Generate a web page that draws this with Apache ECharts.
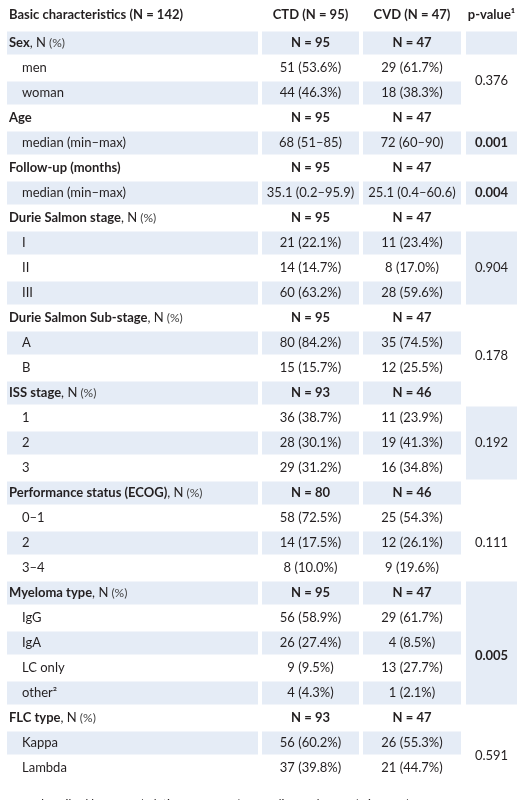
<!DOCTYPE html>
<html><head><meta charset="utf-8">
<script src="https://cdn.jsdelivr.net/npm/echarts@6/dist/echarts.min.js"></script>
<style>html,body{margin:0;padding:0;background:#fff}#c{width:525px;height:800px}</style>
</head><body><div id="c"></div>
<script>
// ---- data ----
const headerTitles = ['Basic characteristics (N = 142)', 'CTD (N = 95)', 'CVD (N = 47)', 'p-value¹'];
const rowLabels = ['Sex','men','woman','Age','median (min–max)','Follow-up (months)','median (min–max)',
 'Durie Salmon stage','I','II','III','Durie Salmon Sub-stage','A','B','ISS stage','1','2','3',
 'Performance status (ECOG)','0–1','2','3–4','Myeloma type','IgG','IgA','LC only','other²','FLC type','Kappa','Lambda'];
const rowSuffix = [', N (%)','','','','','','',', N (%)','','','',', N (%)','','',', N (%)','','','',', N (%)','','','',', N (%)','','','','',', N (%)','',''];
const rowIsGroup = [1,0,0,1,0,1,0,1,0,0,0,1,0,0,1,0,0,0,1,0,0,0,1,0,0,0,0,1,0,0];
const ctdValues = ['N = 95','51 (53.6%)','44 (46.3%)','N = 95','68 (51–85)','N = 95','35.1 (0.2–95.9)','N = 95','21 (22.1%)','14 (14.7%)','60 (63.2%)','N = 95','80 (84.2%)','15 (15.7%)','N = 93','36 (38.7%)','28 (30.1%)','29 (31.2%)','N = 80','58 (72.5%)','14 (17.5%)','8 (10.0%)','N = 95','56 (58.9%)','26 (27.4%)','9 (9.5%)','4 (4.3%)','N = 93','56 (60.2%)','37 (39.8%)'];
const cvdValues = ['N = 47','29 (61.7%)','18 (38.3%)','N = 47','72 (60–90)','N = 47','25.1 (0.4–60.6)','N = 47','11 (23.4%)','8 (17.0%)','28 (59.6%)','N = 47','35 (74.5%)','12 (25.5%)','N = 46','11 (23.9%)','19 (41.3%)','16 (34.8%)','N = 46','25 (54.3%)','12 (26.1%)','9 (19.6%)','N = 47','29 (61.7%)','4 (8.5%)','13 (27.7%)','1 (2.1%)','N = 47','26 (55.3%)','21 (44.7%)'];
// p-value cells: [firstRow, lastRow, shaded, textFirstRow, textLastRow]
const pCells = [[0,0,1,0,0],[1,2,0,1,2],[4,4,1,4,4],[6,6,1,6,6],[8,10,1,8,10],[12,13,0,12,13],[15,17,1,15,17],[19,21,0,19,21],[22,26,1,23,26],[28,29,0,28,29]];
const pTexts = ['','0.376','0.001','0.004','0.904','0.178','0.192','0.111','0.005','0.591'];
const pBold = [0,0,1,1,0,0,0,0,1,0];
const footnote = 'Data described by count (relative frequency) or median and range (min–max)';

// ---- layout ----
const FONT = 'Lato';
const FS = 13;
const TXT = '#231f20';
const SHADE = '#e5ecf6';
const colBounds = [[7,258],[262,359],[363,461],[466,517]];

const chart = echarts.init(document.getElementById('c'), null, {renderer:'canvas'});
const rowData = rowLabels.map((l,i)=>[i]);
chart.setOption({
  animation:false,
  grid:{left:0,right:0,top:0,bottom:0},
  xAxis:{type:'value',min:0,max:525,show:false},
  yAxis:{type:'value',min:-1.72,max:30.28,inverse:true,show:false},
  series:[
  {
    type:'custom', data:rowData, silent:true,
    renderItem:(params,api)=>{
      const i=api.value(0);
      const top=api.coord([0,i-0.5])[1]+1, bot=api.coord([0,i+0.5])[1]-1;
      const cy=api.coord([0,i])[1];
      const ch=[];
      const shaded = i%2===0;
      for(let c=0;c<3;c++){
        if(shaded){
          const x0=api.coord([colBounds[c][0],0])[0], x1=api.coord([colBounds[c][1],0])[0];
          ch.push({type:'rect',shape:{x:x0,y:top,width:x1-x0,height:bot-top},style:{fill:SHADE}});
        }
      }
      const g=rowIsGroup[i];
      ch.push({type:'text',x:g?9:22,y:cy,style:{
        text: g ? '{b|'+rowLabels[i]+'}'+(rowSuffix[i]?'{n|'+rowSuffix[i].replace(' (%)','')+'}{s| (%)}':'') : '{n|'+rowLabels[i]+'}',
        verticalAlign:'middle',align:'left',
        rich:{b:{fontFamily:FONT,fontWeight:'bold',fontSize:FS,fill:TXT},
              n:{fontFamily:FONT,fontSize:FS,fill:TXT},
              s:{fontFamily:FONT,fontSize:12,fill:'#444'}}}});
      const vals=[ctdValues[i],cvdValues[i]];
      for(let c=0;c<2;c++){
        const cx=api.coord([(colBounds[c+1][0]+colBounds[c+1][1])/2,0])[0];
        ch.push({type:'text',x:cx,y:cy,style:{text:vals[c],align:'center',verticalAlign:'middle',
          fontFamily:FONT,fontSize:FS,fontWeight:g?'bold':'normal',fill:TXT}});
      }
      return {type:'group',children:ch};
    }
  },
  {
    type:'custom', data:pCells.map((p,k)=>[p[0],p[1],p[2],p[3],p[4],k]), silent:true,
    renderItem:(params,api)=>{
      const a=api.value(0),b=api.value(1),sh=api.value(2),ta=api.value(3),tb=api.value(4),k=api.value(5);
      const top=api.coord([0,a-0.5])[1]+1, bot=api.coord([0,b+0.5])[1]-1;
      const x0=api.coord([colBounds[3][0],0])[0], x1=api.coord([colBounds[3][1],0])[0];
      const ty=(api.coord([0,ta])[1]+api.coord([0,tb])[1])/2;
      const ch=[];
      if(sh) ch.push({type:'rect',shape:{x:x0,y:top,width:x1-x0,height:bot-top},style:{fill:SHADE}});
      ch.push({type:'text',x:(x0+x1)/2,y:ty,style:{text:pTexts[k],align:'center',verticalAlign:'middle',
        fontFamily:FONT,fontSize:FS,fontWeight:pBold[k]?'bold':'normal',fill:TXT}});
      return {type:'group',children:ch};
    }
  },
  {
    type:'custom', data:[[-1]], silent:true,
    renderItem:(params,api)=>{
      const cy=api.coord([0,-1.12])[1];
      const xs=[9,(colBounds[1][0]+colBounds[1][1])/2,(colBounds[2][0]+colBounds[2][1])/2,(colBounds[3][0]+colBounds[3][1])/2];
      const ch=headerTitles.map((t,c)=>({type:'text',x:api.coord([xs[c],0])[0],y:cy,style:{text:t,
        align:c===0?'left':'center',verticalAlign:'middle',fontFamily:FONT,fontSize:FS,fontWeight:'bold',fill:TXT}}));
      const fy=api.coord([0,30.45])[1];
      ch.push({type:'text',x:9,y:fy,style:{text:footnote,align:'left',verticalAlign:'middle',fontFamily:FONT,fontSize:12,fill:TXT}});
      return {type:'group',children:ch};
    }
  }]
});
</script></body></html>
